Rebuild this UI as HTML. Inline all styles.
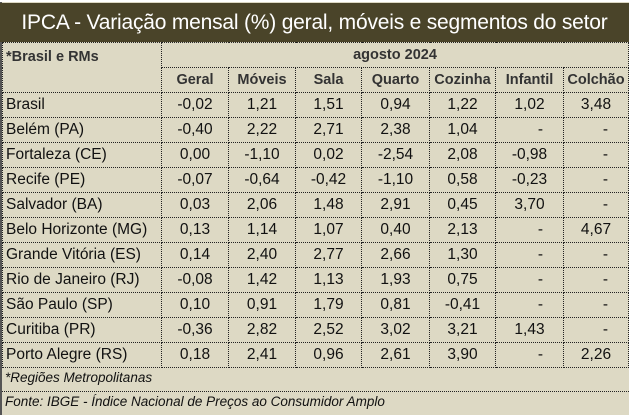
<!DOCTYPE html>
<html><head><meta charset="utf-8"><style>
body{margin:0;background:#fff;width:631px;height:415px;overflow:hidden;font-family:"Liberation Sans",sans-serif;}
#w{position:absolute;left:0;top:2px;width:629px;height:413px;background:#ddd9c4;border-left:2px solid #555;box-sizing:border-box}
#t{position:absolute;left:0;top:3px;width:629px;height:39px;background:#4a4429;color:#fff;font-size:21px;line-height:39px;text-align:center;letter-spacing:-0.2px}
table{position:absolute;left:2px;top:42px;border-collapse:collapse;table-layout:fixed;font-size:15.5px;color:#111}
td{height:24px;padding:0;border:1px dotted #222;text-align:center;white-space:nowrap;overflow:hidden}
td.n{text-align:left;padding-left:3px}
td.h{font-weight:bold;color:#333;font-size:14.5px}
td.d{text-align:right;padding-right:20px}
.f{position:absolute;left:5px;font-style:italic;font-size:13.5px;color:#111}
.l{position:absolute;left:2px;width:627px;border-top:1px dotted #222}
</style></head><body>
<div id="w"></div>
<div id="t">IPCA - Variação mensal (%) geral, móveis e segmentos do setor</div>
<table>
<colgroup><col style="width:159px"><col style="width:67px"><col style="width:67px"><col style="width:66px"><col style="width:68px"><col style="width:66px"><col style="width:68px"><col style="width:65px"></colgroup>
<tr><td rowspan="2" class="n h" style="vertical-align:top;padding-top:6px;height:42px">*Brasil e RMs</td><td colspan="7" class="h" style="border-left:1px dotted #222">agosto 2024</td></tr>
<tr><td class="h">Geral</td><td class="h">Móveis</td><td class="h">Sala</td><td class="h">Quarto</td><td class="h">Cozinha</td><td class="h">Infantil</td><td class="h">Colchão</td></tr>
<tr><td class="n">Brasil</td><td>-0,02</td><td>1,21</td><td>1,51</td><td>0,94</td><td>1,22</td><td>1,02</td><td>3,48</td></tr>
<tr><td class="n">Belém (PA)</td><td>-0,40</td><td>2,22</td><td>2,71</td><td>2,38</td><td>1,04</td><td class="d">-</td><td class="d">-</td></tr>
<tr><td class="n">Fortaleza (CE)</td><td>0,00</td><td>-1,10</td><td>0,02</td><td>-2,54</td><td>2,08</td><td>-0,98</td><td class="d">-</td></tr>
<tr><td class="n">Recife (PE)</td><td>-0,07</td><td>-0,64</td><td>-0,42</td><td>-1,10</td><td>0,58</td><td>-0,23</td><td class="d">-</td></tr>
<tr><td class="n">Salvador (BA)</td><td>0,03</td><td>2,06</td><td>1,48</td><td>2,91</td><td>0,45</td><td>3,70</td><td class="d">-</td></tr>
<tr><td class="n">Belo Horizonte (MG)</td><td>0,13</td><td>1,14</td><td>1,07</td><td>0,40</td><td>2,13</td><td class="d">-</td><td>4,67</td></tr>
<tr><td class="n">Grande Vitória (ES)</td><td>0,14</td><td>2,40</td><td>2,77</td><td>2,66</td><td>1,30</td><td class="d">-</td><td class="d">-</td></tr>
<tr><td class="n">Rio de Janeiro (RJ)</td><td>-0,08</td><td>1,42</td><td>1,13</td><td>1,93</td><td>0,75</td><td class="d">-</td><td class="d">-</td></tr>
<tr><td class="n">São Paulo (SP)</td><td>0,10</td><td>0,91</td><td>1,79</td><td>0,81</td><td>-0,41</td><td class="d">-</td><td class="d">-</td></tr>
<tr><td class="n">Curitiba (PR)</td><td>-0,36</td><td>2,82</td><td>2,52</td><td>3,02</td><td>3,21</td><td>1,43</td><td class="d">-</td></tr>
<tr><td class="n">Porto Alegre (RS)</td><td>0,18</td><td>2,41</td><td>0,96</td><td>2,61</td><td>3,90</td><td class="d">-</td><td>2,26</td></tr>
</table>
<div class="f" style="top:370px">*Regiões Metropolitanas</div>
<div class="l" style="top:391px"></div>
<div class="f" style="top:394px">Fonte: IBGE - Índice Nacional de Preços ao Consumidor Amplo</div>
</body></html>
